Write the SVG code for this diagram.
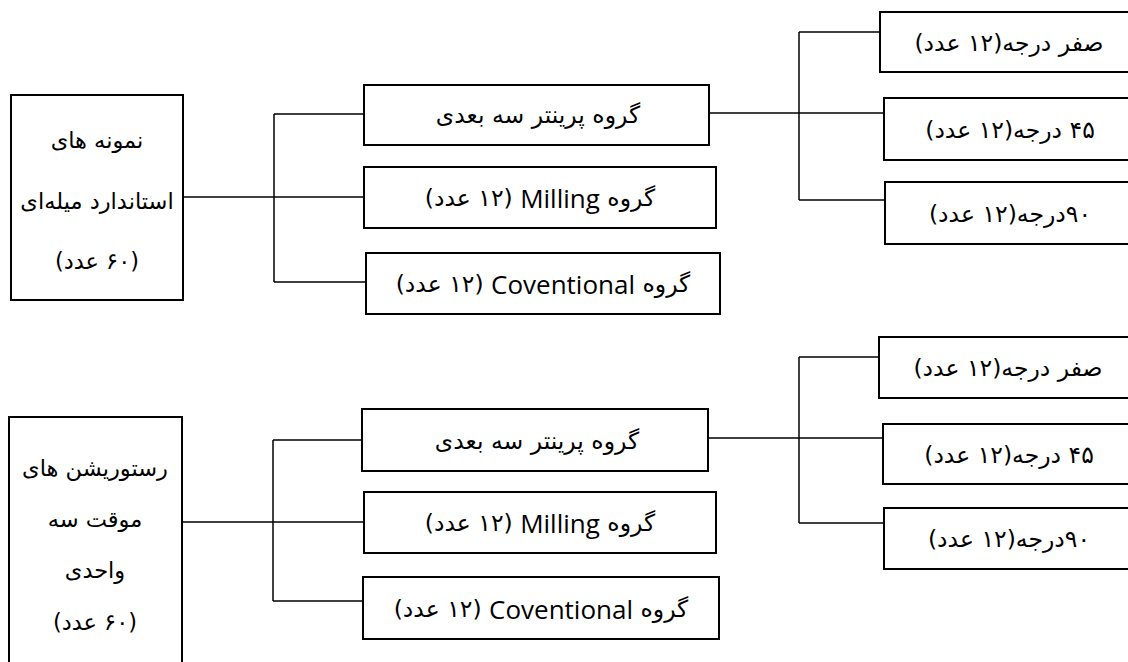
<svg xmlns="http://www.w3.org/2000/svg" width="1128" height="662" viewBox="0 0 1128 662">
  <style>
    .box { fill: #ffffff; stroke: #000000; stroke-width: 2; }
    .wire { fill: none; stroke: #000000; stroke-width: 1.5; }
    .label { font-family: 'DejaVu Sans', sans-serif; font-size: 23.5px; fill: #000000; text-anchor: middle; dominant-baseline: central; direction: rtl; unicode-bidi: embed; }
    .root { font-size: 22.5px; }
    .latin { font-family: 'Open Sans', 'DejaVu Sans', sans-serif; font-size: 26px; }
  </style>
  <rect width="1128" height="662" fill="#ffffff"/>

  <!-- connectors -->
  <g id="connectors">
    <!-- upper tree -->
    <path class="wire" d="M183 197 H364"/>
    <path class="wire" d="M274 114 V282"/>
    <path class="wire" d="M274 114 H363 M274 282 H366"/>
    <path class="wire" d="M709 113 H884"/>
    <path class="wire" d="M799 32 V200"/>
    <path class="wire" d="M799 32 H880 M799 200 H885"/>
    <!-- lower tree -->
    <path class="wire" d="M182 522 H364"/>
    <path class="wire" d="M273 440 V601"/>
    <path class="wire" d="M273 440 H362 M273 601 H363"/>
    <path class="wire" d="M708 438 H883"/>
    <path class="wire" d="M799 357 V523"/>
    <path class="wire" d="M799 357 H879 M799 523 H884"/>
  </g>

  <!-- upper tree nodes -->
  <g id="root-standard">
    <rect class="box" x="11" y="95" width="172" height="205"/>
    <text class="label root" x="97" y="140">نمونه های</text>
    <text class="label root" x="97" y="201">استاندارد میله‌ای</text>
    <text class="label root" x="97" y="261">(۶۰ عدد)</text>
  </g>
  <g id="printer-standard">
    <rect class="box" x="364" y="85" width="345" height="60"/>
    <text class="label" x="538" y="115">گروه پرینتر سه بعدی</text>
  </g>
  <g id="milling-standard">
    <rect class="box" x="364" y="167" width="352" height="61"/>
    <text class="label" x="540" y="198">گروه <tspan class="latin">Milling</tspan> (۱۲ عدد)</text>
  </g>
  <g id="conventional-standard">
    <rect class="box" x="366" y="253" width="354" height="61"/>
    <text class="label" x="543" y="284">گروه <tspan class="latin">Coventional</tspan> (۱۲ عدد)</text>
  </g>
  <g id="deg0-standard">
    <rect class="box" x="880" y="12" width="262" height="60"/>
    <text class="label" x="1009" y="43">صفر درجه(۱۲ عدد)</text>
  </g>
  <g id="deg45-standard">
    <rect class="box" x="884" y="98" width="258" height="62"/>
    <text class="label" x="1010" y="130">۴۵ درجه(۱۲ عدد)</text>
  </g>
  <g id="deg90-standard">
    <rect class="box" x="885" y="182" width="257" height="62"/>
    <text class="label" x="1010" y="214">۹۰درجه(۱۲ عدد)</text>
  </g>

  <!-- lower tree nodes -->
  <g id="root-restoration">
    <rect class="box" x="9" y="417" width="173" height="260"/>
    <text class="label root" x="95" y="468">رستوریشن های</text>
    <text class="label root" x="95" y="519">موقت سه</text>
    <text class="label root" x="95" y="570">واحدی</text>
    <text class="label root" x="95" y="622">(۶۰ عدد)</text>
  </g>
  <g id="printer-restoration">
    <rect class="box" x="362" y="409" width="346" height="62"/>
    <text class="label" x="537" y="441">گروه پرینتر سه بعدی</text>
  </g>
  <g id="milling-restoration">
    <rect class="box" x="364" y="492" width="352" height="61"/>
    <text class="label" x="540" y="523">گروه <tspan class="latin">Milling</tspan> (۱۲ عدد)</text>
  </g>
  <g id="conventional-restoration">
    <rect class="box" x="363" y="577" width="356" height="62"/>
    <text class="label" x="541" y="609">گروه <tspan class="latin">Coventional</tspan> (۱۲ عدد)</text>
  </g>
  <g id="deg0-restoration">
    <rect class="box" x="879" y="337" width="263" height="61"/>
    <text class="label" x="1008" y="368">صفر درجه(۱۲ عدد)</text>
  </g>
  <g id="deg45-restoration">
    <rect class="box" x="883" y="424" width="259" height="60"/>
    <text class="label" x="1009" y="455">۴۵ درجه(۱۲ عدد)</text>
  </g>
  <g id="deg90-restoration">
    <rect class="box" x="884" y="508" width="258" height="61"/>
    <text class="label" x="1009" y="539">۹۰درجه(۱۲ عدد)</text>
  </g>
</svg>
